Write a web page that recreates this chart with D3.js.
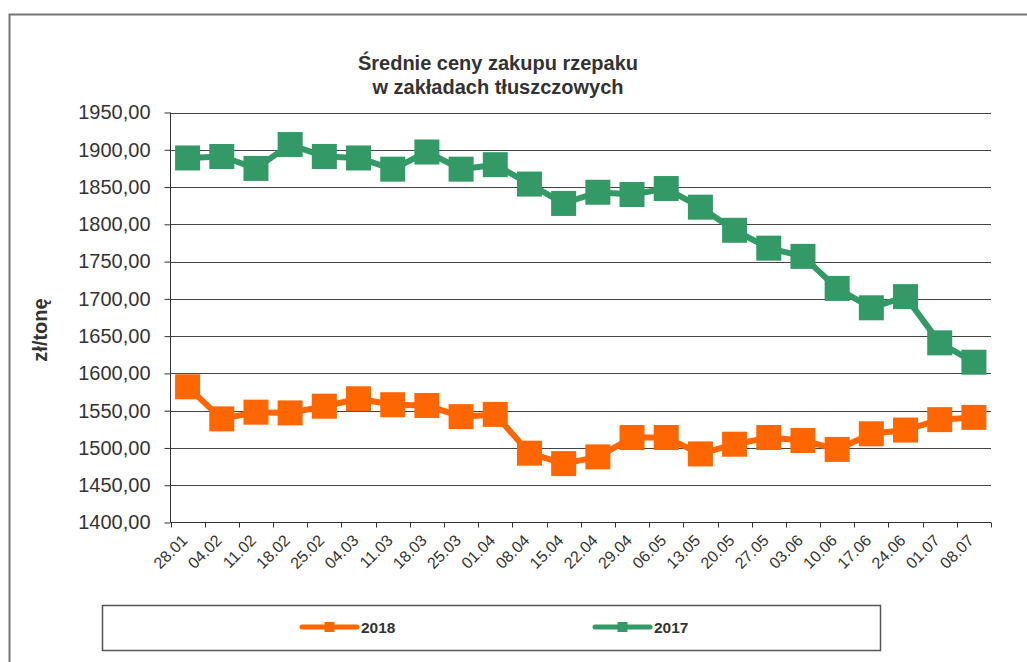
<!DOCTYPE html>
<html>
<head>
<meta charset="utf-8">
<script src="https://cdn.jsdelivr.net/npm/d3@7"></script>
<style>
  body { margin: 0; background: #fff; }
  svg { display: block; font-family: "Liberation Sans", Arial, sans-serif; }
</style>
</head>
<body>
<svg id="chart" width="1027" height="662"></svg>
<script>
var dates = ['28.01','04.02','11.02','18.02','25.02','04.03','11.03','18.03','25.03','01.04','08.04','15.04',
             '22.04','29.04','06.05','13.05','20.05','27.05','03.06','10.06','17.06','24.06','01.07','08.07'];

var ceny2018 = [1582,1539,1548,1547,1556,1566,1558,1557,1542,1545,1493,1479,
                1488,1514,1514,1492,1505,1514,1510,1498,1519,1524,1538,1541];

var ceny2017 = [1889,1891,1875,1907,1891,1889,1874,1897,1874,1880,1854,1828,
                1843,1840,1848,1823,1792,1768,1757,1714,1688,1703,1641,1615];

var yTicks = [1400,1450,1500,1550,1600,1650,1700,1750,1800,1850,1900,1950];

var series = [
  { name: '2018', values: ceny2018, color: '#ff6600' },
  { name: '2017', values: ceny2017, color: '#339966' }
];

var svg = d3.select('#chart');

var plotLeft = 170.5, plotRight = 991, plotTop = 112.5, plotBottom = 522.5;

var x = d3.scaleBand()
  .domain(dates)
  .range([plotLeft, plotRight])
  .paddingInner(0)
  .paddingOuter(0);

var y = d3.scaleLinear()
  .domain([1400, 1950])
  .range([plotBottom, plotTop]);

// ramka wykresu
svg.append('rect')
  .attr('x', 9.5).attr('y', 14.5)
  .attr('width', 1100).attr('height', 700)
  .attr('fill', 'none')
  .attr('stroke', '#777')
  .attr('stroke-width', 2);

// tytul
var title = svg.append('text')
  .attr('text-anchor', 'middle')
  .attr('font-weight', 'bold')
  .attr('font-size', 20)
  .attr('fill', '#333');
title.append('tspan').attr('x', 498).attr('y', 70).text('Średnie ceny zakupu rzepaku');
title.append('tspan').attr('x', 498).attr('y', 94).text('w zakładach tłuszczowych');

// linie siatki
svg.append('g')
  .selectAll('line')
  .data(yTicks.filter(d => d > 1400))
  .join('line')
  .attr('x1', plotLeft).attr('x2', plotRight)
  .attr('y1', d => Math.round(y(d)) + 0.5)
  .attr('y2', d => Math.round(y(d)) + 0.5)
  .attr('stroke', '#444')
  .attr('stroke-width', 1);

// os Y
var yAxis = d3.axisLeft(y)
  .tickValues(yTicks)
  .tickSize(6)
  .tickPadding(14)
  .tickFormat(d => d3.format('.2f')(d).replace('.', ','));

var gy = svg.append('g')
  .attr('transform', 'translate(' + plotLeft + ',0)')
  .call(yAxis);
gy.select('.domain').attr('stroke', '#333').attr('d', 'M0,' + plotTop + 'V' + plotBottom);
gy.selectAll('.tick line').attr('stroke', '#333');
gy.selectAll('.tick text')
  .attr('font-family', '"Liberation Sans", Arial, sans-serif')
  .attr('font-size', 20)
  .attr('fill', '#333');

// os X
var xAxis = d3.axisBottom(x).tickSize(0).tickPadding(0);
var gx = svg.append('g')
  .attr('transform', 'translate(0,' + plotBottom + ')')
  .call(xAxis);
gx.select('.domain').attr('stroke', '#333').attr('d', 'M' + plotLeft + ',0H' + plotRight);
gx.selectAll('.tick text')
  .attr('font-family', '"Liberation Sans", Arial, sans-serif')
  .attr('font-size', 16)
  .attr('fill', '#333')
  .attr('text-anchor', 'end')
  .attr('dy', 0)
  .attr('transform', 'translate(1,19) rotate(-45)');

// kreski podzialki na granicach kategorii
var bounds = dates.map(d => x(d)).concat([x(dates[dates.length - 1]) + x.bandwidth()]);
svg.append('g')
  .selectAll('line')
  .data(bounds)
  .join('line')
  .attr('x1', d => Math.round(d) + 0.5).attr('x2', d => Math.round(d) + 0.5)
  .attr('y1', plotBottom).attr('y2', plotBottom + 5)
  .attr('stroke', '#333');

// serie
var line = d3.line()
  .x((d, i) => x(dates[i]) + x.bandwidth() / 2)
  .y(d => y(d));

var ms = 25;
series.forEach(s => {
  var g = svg.append('g');
  g.append('path')
    .datum(s.values)
    .attr('d', line)
    .attr('fill', 'none')
    .attr('stroke', s.color)
    .attr('stroke-width', 6)
    .attr('stroke-linejoin', 'round');
  g.selectAll('rect')
    .data(s.values)
    .join('rect')
    .attr('x', (d, i) => x(dates[i]) + x.bandwidth() / 2 - ms / 2)
    .attr('y', d => y(d) - ms / 2)
    .attr('width', ms).attr('height', ms)
    .attr('fill', s.color);
});

// tytul osi Y
svg.append('text')
  .attr('transform', 'translate(47,330) rotate(-90)')
  .attr('text-anchor', 'middle')
  .attr('font-weight', 'bold')
  .attr('font-size', 20)
  .attr('fill', '#333')
  .text('zł/tonę');

// legenda
svg.append('rect')
  .attr('x', 102.5).attr('y', 605.5)
  .attr('width', 778).attr('height', 45)
  .attr('fill', 'none')
  .attr('stroke', '#555')
  .attr('stroke-width', 1.5);

var legendX = [302, 595];
series.forEach((s, i) => {
  var g = svg.append('g').attr('transform', 'translate(' + legendX[i] + ',627)');
  g.append('line')
    .attr('x1', 0).attr('x2', 55)
    .attr('stroke', s.color)
    .attr('stroke-width', 5)
    .attr('stroke-linecap', 'round');
  g.append('rect')
    .attr('x', 22.5).attr('y', -5)
    .attr('width', 10).attr('height', 10)
    .attr('fill', s.color);
  g.append('text')
    .attr('x', 59).attr('y', 6)
    .attr('font-weight', 'bold')
    .attr('font-size', 15.5)
    .attr('fill', '#333')
    .text(s.name);
});
</script>
</body>
</html>
